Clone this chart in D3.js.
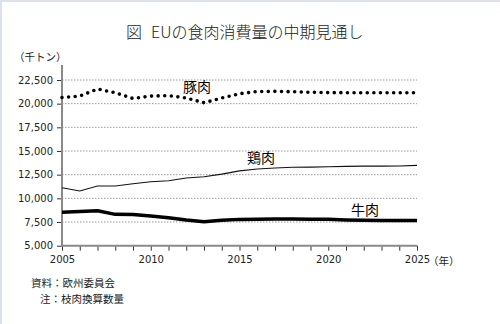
<!DOCTYPE html>
<html>
<head>
<meta charset="utf-8">
<script src="https://cdn.jsdelivr.net/npm/d3@7"></script>
<style>
  html, body { margin: 0; padding: 0; background: #fff; }
  svg { display: block; }
</style>
</head>
<body>
<svg id="chart" width="500" height="324"></svg>
<script>
// EU meat consumption, medium-term outlook (thousand tonnes, carcass weight)
const years = d3.range(2005, 2026);
const pork = [20650, 20800, 21550, 21150, 20550, 20800, 20850, 20600, 20100, 20600, 21050, 21280, 21300, 21260, 21200, 21170, 21160, 21160, 21150, 21150, 21150];
const chicken = [11120, 10780, 11300, 11300, 11550, 11760, 11860, 12150, 12290, 12560, 12900, 13100, 13200, 13280, 13300, 13340, 13380, 13400, 13400, 13420, 13480];
const beef = [8530, 8600, 8700, 8310, 8290, 8140, 7960, 7710, 7540, 7680, 7780, 7800, 7810, 7810, 7800, 7790, 7720, 7680, 7660, 7650, 7650];
const yTicks = [5000, 7500, 10000, 12500, 15000, 17500, 20000, 22500];
const xTicks = [2005, 2010, 2015, 2020, 2025];

const svg = d3.select("#chart");
const jp = "'Noto Sans CJK JP', sans-serif";
const num = "'DejaVu Sans', Verdana, sans-serif";

// light frame along top and left edges
svg.append("rect").attr("x", 0).attr("y", 0).attr("width", 500).attr("height", 2).attr("fill", "#dde1ea");
svg.append("rect").attr("x", 0).attr("y", 0).attr("width", 2).attr("height", 324).attr("fill", "#dde1ea");

const x = d3.scaleLinear().domain([2005, 2025]).range([62, 417]);
const y = d3.scaleLinear().domain([5000, 22500]).range([245.7, 80]);
const yTop = 65;

// title
const title = svg.append("text").attr("x", 126).attr("y", 38)
  .attr("font-family", jp).attr("font-size", 16).attr("font-weight", 300).attr("fill", "#222");
title.append("tspan").text("図");
title.append("tspan").attr("dx", 9).text("EUの食肉消費量の中期見通し");

// unit label
svg.append("text").attr("x", 14).attr("y", 61)
  .attr("font-family", jp).attr("font-size", 10.5).attr("fill", "#222")
  .text("（千トン）");

// grid lines
svg.append("g").selectAll("line").data(yTicks.slice(1)).join("line")
  .attr("x1", x(2005)).attr("x2", x(2025))
  .attr("y1", d => y(d)).attr("y2", d => y(d))
  .attr("stroke", "#9a9a9a").attr("stroke-width", 1)
  .attr("stroke-dasharray", "1.5 1.5");

// y axis
const yAxis = svg.append("g").attr("transform", `translate(${x(2005)},0)`)
  .call(d3.axisLeft(y).tickValues(yTicks).tickSize(5).tickFormat(d3.format(",")));
yAxis.select(".domain").remove();
yAxis.selectAll(".tick line").attr("stroke", "#333");
yAxis.selectAll("text").attr("font-family", num).attr("font-size", 10).attr("fill", "#222")
  .attr("x", -9);
svg.append("line").attr("x1", x(2005)).attr("x2", x(2005))
  .attr("y1", yTop).attr("y2", y(5000))
  .attr("stroke", "#8a8a8a").attr("stroke-width", 2);

// x axis
const xAxis = svg.append("g").attr("transform", `translate(0,${y(5000)})`)
  .call(d3.axisBottom(x).tickValues(years).tickSize(5).tickFormat(d => xTicks.includes(d) ? d : ""));
xAxis.select(".domain").remove();
xAxis.selectAll(".tick line").attr("stroke", "#333");
xAxis.selectAll("text").attr("font-family", num).attr("font-size", 10).attr("fill", "#222")
  .attr("y", 10);
svg.append("line").attr("x1", x(2005) - 1).attr("x2", x(2025))
  .attr("y1", y(5000)).attr("y2", y(5000))
  .attr("stroke", "#8a8a8a").attr("stroke-width", 2);
svg.append("text").attr("x", x(2025) + 11).attr("y", y(5000) + 19.5)
  .attr("font-family", jp).attr("font-size", 10.5).attr("fill", "#222")
  .text("（年）");

const line = d3.line().x((d, i) => x(years[i])).y(d => y(d)).curve(d3.curveLinear);

// chicken: thin line
svg.append("path").datum(chicken).attr("d", line)
  .attr("fill", "none").attr("stroke", "#111").attr("stroke-width", 1.1);

// beef: thick line
svg.append("path").datum(beef).attr("d", line)
  .attr("fill", "none").attr("stroke", "#000").attr("stroke-width", 3.5)
  .attr("stroke-linejoin", "round");

// pork: round dotted line
svg.append("path").datum(pork).attr("d", line)
  .attr("fill", "none").attr("stroke", "#000").attr("stroke-width", 3.6)
  .attr("stroke-linecap", "round").attr("stroke-dasharray", "0 6.6");

// series labels
const labels = [
  { t: "豚肉", x: 183, y: 92 },
  { t: "鶏肉", x: 247, y: 163 },
  { t: "牛肉", x: 351, y: 215 }
];
svg.append("g").selectAll("text").data(labels).join("text")
  .attr("x", d => d.x).attr("y", d => d.y)
  .attr("font-family", jp).attr("font-size", 14).attr("fill", "#000")
  .text(d => d.t);

// notes
svg.append("text").attr("x", 31).attr("y", 287)
  .attr("font-family", jp).attr("font-size", 10.5).attr("fill", "#222")
  .text("資料：欧州委員会");
svg.append("text").attr("x", 40).attr("y", 303)
  .attr("font-family", jp).attr("font-size", 10.5).attr("fill", "#222")
  .text("注：枝肉換算数量");
</script>
</body>
</html>
